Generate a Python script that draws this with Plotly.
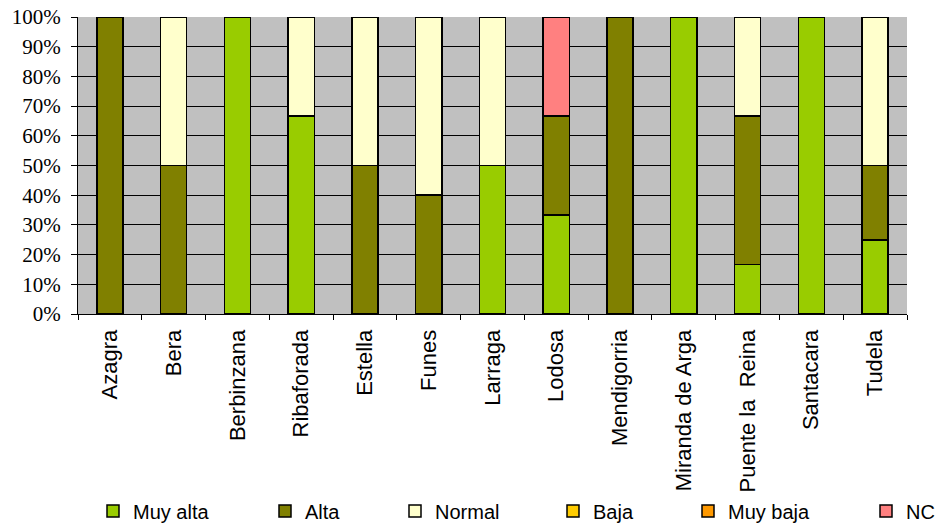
import plotly.graph_objects as go

categories = ["Azagra", "Bera", "Berbinzana", "Ribaforada", "Estella", "Funes", "Larraga",
              "Lodosa", "Mendigorria", "Miranda de Arga", "Puente la\u00a0 Reina", "Santacara", "Tudela"]
muy_alta = [0, 0, 100, 66.67, 0, 0, 50, 33.33, 0, 100, 16.67, 100, 25]
alta     = [100, 50, 0, 0, 50, 40, 0, 33.33, 100, 0, 50, 0, 25]
normal   = [0, 50, 0, 33.33, 50, 60, 50, 0, 0, 0, 33.33, 0, 50]
baja     = [0] * 13
muy_baja = [0] * 13
nc       = [0, 0, 0, 0, 0, 0, 0, 33.33, 0, 0, 0, 0, 0]

series_names = ["Muy alta", "Alta", "Normal", "Baja", "Muy baja", "NC"]
series_values = [muy_alta, alta, normal, baja, muy_baja, nc]
series_colors = ["#99CC00", "#808000", "#FFFFCC", "#FFCC00", "#FF9900", "#FF8080"]
# legend marker centre positions (px)
legend_marker_x = [116, 288, 418, 576, 711, 889]

W, H = 936, 526

fig = go.Figure()
legend_layouts = {}
for i, (name, vals, col) in enumerate(zip(series_names, series_values, series_colors)):
    lid = "legend" if i == 0 else f"legend{i+1}"
    fig.add_trace(go.Bar(
        x=categories, y=vals, name=name,
        marker=dict(color=col, line=dict(color="black", width=1.5)),
        width=0.41, legend=lid,
    ))
    legend_layouts[lid] = dict(
        orientation="h", xref="container", yref="container",
        x=(legend_marker_x[i] - 3 - 20) / W, xanchor="left",
        y=1 - 511 / H, yanchor="middle",
        itemwidth=30,
        font=dict(family="Liberation Sans", size=20, color="black"),
        bgcolor="rgba(0,0,0,0)",
    )

fig.update_layout(
    barmode="stack",
    width=W, height=H,
    margin=dict(l=78, r=W - 78 - 829, t=17, b=H - 17 - 297),
    plot_bgcolor="#C0C0C0",
    paper_bgcolor="white",
    font=dict(family="Liberation Sans", size=20, color="black"),
    showlegend=True,
    **legend_layouts,
    xaxis=dict(
        type="category", tickangle=-90, tickson="boundaries",
        ticks="outside", ticklen=5, tickcolor="black",
        showline=True, linecolor="black", linewidth=1,
        showgrid=False, automargin=False, ticklabelstandoff=6,
        tickfont=dict(family="Liberation Sans", size=22, color="black"),
        range=[-0.5, 12.5],
    ),
    yaxis=dict(
        range=[0, 100], dtick=10, ticksuffix="%",
        ticks="outside", ticklen=6, tickcolor="black",
        showline=True, linecolor="black", linewidth=1,
        showgrid=True, gridcolor="black", gridwidth=1,
        zeroline=False, automargin=False, ticklabelstandoff=6,
        ticklabeloverflow="allow",
        tickfont=dict(family="Liberation Serif", size=21, color="black"),
    ),
)

fig.write_html("out.html", config={"displayModeBar": False},
               post_script="document.body.style.margin='0';")
